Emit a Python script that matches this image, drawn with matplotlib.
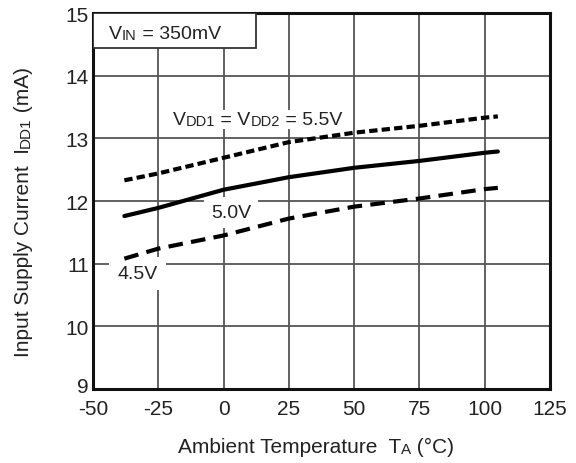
import matplotlib
matplotlib.use('Agg')
from matplotlib import pyplot as plt
from matplotlib.patches import Rectangle
from matplotlib.transforms import ScaledTranslation

plt.rcParams['font.family'] = ['Liberation Sans', 'DejaVu Sans']
plt.rcParams['axes.unicode_minus'] = False

# data
temp = [-38, -25, 0, 25, 50, 75, 100, 105]
idd_55 = [12.33, 12.44, 12.69, 12.94, 13.09, 13.20, 13.33, 13.35]
idd_50 = [11.76, 11.89, 12.18, 12.38, 12.53, 12.64, 12.77, 12.79]
idd_45 = [11.08, 11.24, 11.45, 11.72, 11.91, 12.04, 12.19, 12.21]
xticks = [-50, -25, 0, 25, 50, 75, 100, 125]
yticks = [9, 10, 11, 12, 13, 14, 15]

BIG, SMALL = 14, 10.5
INK = '#222222'


def chain_text(first, parts, bg=None):
    """put text parts of mixed sizes one after the other on the same line"""
    prev = first
    for s, size in parts:
        prev = first.axes.annotate(s, xy=(0.999, 0), xycoords=prev, ha='left', va='bottom',
                                   fontsize=size, color=INK, bbox=bg,
                                   zorder=first.get_zorder())
    return prev


fig = plt.figure(figsize=(5.76, 4.64), dpi=100)
ax = fig.add_axes([0.1615, 0.1595, 0.7935, 0.8103])

ax.set_xlim(-50, 125)
ax.set_ylim(9, 15)
ax.set_xticks(xticks)
ax.set_yticks(yticks)
ax.tick_params(length=0, labelsize=15, colors=INK)
ax.tick_params(axis='x', pad=7.5)
ax.tick_params(axis='y', pad=3)
ax.grid(True, color='#555555', linewidth=1.3)
ax.set_axisbelow(True)
for s in ax.spines.values():
    s.set_linewidth(2.2)
    s.set_color('#111111')
# the bottom "9" sits a little higher so it clears "-50"
lab9 = ax.get_yticklabels()[0]
lab9.set_transform(lab9.get_transform() + ScaledTranslation(0, 3 / 72, fig.dpi_scale_trans))

ax.plot(temp, idd_55, color='black', linewidth=3, linestyle=(0, (2, 1)), zorder=6)
ax.plot(temp, idd_50, color='black', linewidth=3, solid_capstyle='round', zorder=6)
ax.plot(temp, idd_45, color='black', linewidth=3, linestyle=(0, (3.5, 2)), zorder=6)

# V_IN box in upper left
ax.add_patch(Rectangle((0, 0.907), 0.357, 0.093, transform=ax.transAxes,
                       facecolor='white', edgecolor='#333333', linewidth=1.3, zorder=4))
t = ax.text(0.035, 0.9335, 'V', transform=ax.transAxes, fontsize=BIG,
            va='baseline', ha='left', color=INK, zorder=5)
chain_text(t, [('IN', SMALL), (' = 350mV', BIG)])

# curve labels
bg0 = dict(facecolor='white', edgecolor='none', pad=0.5)
t = ax.text(-19.4, 13.23, 'V', fontsize=BIG, ha='left', va='baseline',
            color=INK, bbox=bg0, zorder=4)
chain_text(t, [('DD1', SMALL), (' = V', BIG), ('DD2', SMALL), (' = 5.5V', BIG)], bg=bg0)

ax.text(-4.8, 11.745, '5.0V', fontsize=BIG, ha='left', va='baseline',
        color=INK, bbox=dict(facecolor='white', edgecolor='none', pad=5), zorder=4)
ax.text(-40.5, 10.77, '4.5V', fontsize=BIG, ha='left', va='baseline',
        color=INK, bbox=dict(facecolor='white', edgecolor='none', pad=6), zorder=4)

# axis titles with small-caps style subscripts
t = fig.text(178 / 576, 11 / 464, 'Ambient Temperature  T', fontsize=15,
             ha='left', va='baseline', color=INK)
prev = t
for s, size in [('A', 11), (' (°C)', 15)]:
    prev = fig.add_artist(plt.Annotation(s, xy=(0.999, 0), xycoords=prev, fontsize=size,
                                         color=INK, ha='left', va='bottom'))

t = fig.text(14 / 576, 107 / 464, 'Input Supply Current  I', fontsize=15,
             rotation=90, ha='left', va='bottom', color=INK)
prev = t
for s, size in [('DD1', 11), (' (mA)', 15)]:
    prev = fig.add_artist(plt.Annotation(s, xy=(1, 0.999), xycoords=prev, fontsize=size,
                                         rotation=90, color=INK, ha='right', va='bottom'))

fig.savefig('out.png', dpi=100)
